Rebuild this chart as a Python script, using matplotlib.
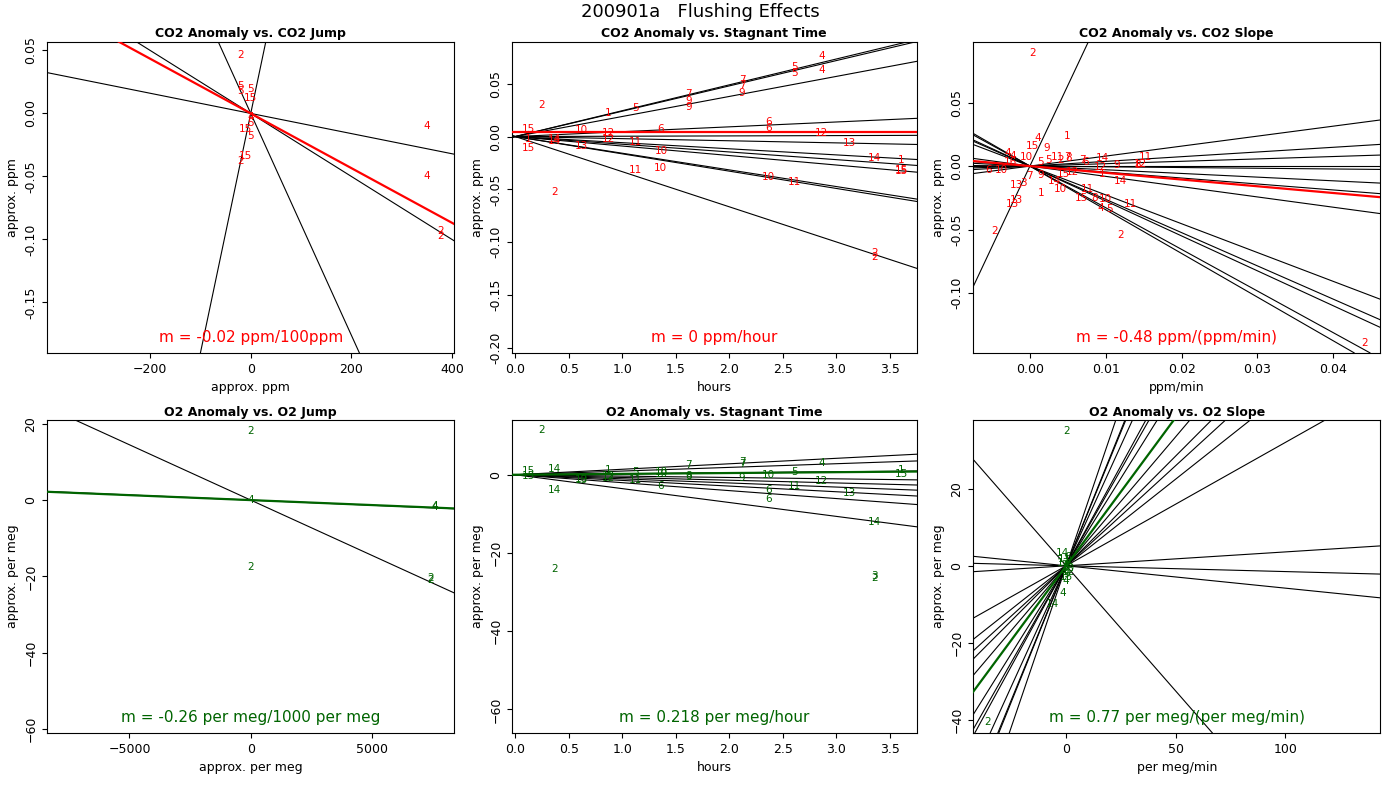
import matplotlib
matplotlib.use("Agg")
import matplotlib.pyplot as plt

RED = "#ff0000"
GRN = "#006400"

# ---------- Panel 1: CO2 Anomaly vs CO2 Jump ----------
p1_lab = ["2", "5", "5", "5", "15", "4", "15", "5", "5", "15", "2", "4", "4", "2", "2"]
p1_x = [-20, -20, -20, 0, 0, 0, -10, 0, 0, -10, -20, 350, 350, 378, 378]
p1_y = [0.046, 0.022, 0.018, 0.019, 0.012, -0.003, -0.012, -0.008, -0.018, -0.034, -0.038, -0.010, -0.050, -0.093, -0.097]
p1_slopes = [-0.00025, -0.00008, 0.0019, -0.00088]
p1_fit = -0.000217

# ---------- Panel 2: CO2 Anomaly vs Stagnant Time ----------
p2_lab = ["4", "5", "5", "4", "7", "7", "9", "7", "9", "9", "2", "1", "5", "6", "6", "15", "10", "6",
          "12", "12", "12", "14", "14", "13", "11", "13", "10", "15", "1", "11", "10", "10", "11", "14",
          "1", "15", "15", "2", "2", "2"]
p2_x = [2.86, 2.61, 2.61, 2.86, 2.12, 2.12, 2.12, 1.62, 1.62, 1.62, 0.25, 0.87, 1.12, 2.37, 2.37, 0.12, 0.62, 1.36,
        0.87, 0.87, 2.86, 0.37, 0.37, 0.62, 1.12, 3.12, 1.37, 0.12, 0.12, 1.12, 1.36, 2.37, 2.61, 3.36,
        3.61, 3.61, 3.61, 0.37, 3.36, 3.36]
p2_y = [0.076, 0.066, 0.060, 0.063, 0.054, 0.049, 0.041, 0.040, 0.034, 0.028, 0.030, 0.022, 0.027, 0.014, 0.008, 0.007, 0.006, 0.007,
        0.003, -0.002, 0.003, -0.002, -0.004, -0.009, -0.005, -0.006, -0.014, -0.011, -0.002, -0.032, -0.030, -0.038, -0.043, -0.020,
        -0.022, -0.032, -0.033, -0.053, -0.110, -0.114]
p2_slopes = [0.0245, 0.0240, 0.019, 0.0046, 0.0003, -0.002, -0.0058, -0.0073, -0.009, -0.0158, -0.0164, -0.0333]
p2_fit_int = 0.004
p2_fit = 0.0

# ---------- Panel 3: CO2 Anomaly vs CO2 Slope ----------
p3_lab = ["2", "1", "4", "15", "9", "4", "4", "10", "5", "11", "2", "7", "8", "7", "6", "14", "9", "8", "12", "11",
          "12", "1", "14", "6", "10", "16", "5", "7", "9", "12", "15", "14", "10", "1", "11", "13", "3", "13", "13",
          "15", "8", "10", "4", "5", "11", "2", "2", "2"]
p3_x = [0.0003, 0.0049, 0.001, 0.0003, 0.0022, -0.0029, -0.0023, -0.0004, 0.0024, 0.0036, 0.004, 0.0049, 0.0051, 0.0069, 0.0074, 0.0096, 0.0114, 0.0142, 0.0146, 0.0152,
        0.0093, 0.0095, 0.0119, -0.0055, -0.0037, -0.0026, 0.0014, -0.0001, 0.0014, 0.0056, 0.0044, 0.0032, 0.004, 0.0015, 0.0076, -0.0018, -0.0008, -0.0018, -0.0023,
        0.0068, 0.0085, 0.010, 0.0093, 0.0105, 0.0132, -0.0046, 0.012, 0.0441]
p3_y = [0.089, 0.024, 0.022, 0.016, 0.014, 0.010, 0.008, 0.007, 0.005, 0.007, 0.005, 0.007, 0.006, 0.005, 0.003, 0.006, 0.001, 0.001, 0.002, 0.007,
        -0.001, -0.006, -0.012, -0.003, -0.003, 0.003, 0.003, -0.008, -0.007, -0.005, -0.006, -0.012, -0.018, -0.021, -0.018, -0.015, -0.013, -0.027, -0.030,
        -0.025, -0.025, -0.026, -0.033, -0.034, -0.030, -0.051, -0.054, -0.139]
p3_slopes = [12.7, 0.786, 0.37, 0.188, 0.0, -0.057, -0.29, -0.47, -0.81, -2.27, -2.62, -2.75, -3.28, -3.44]
p3_fit = -0.53

# ---------- Panel 4: O2 Anomaly vs O2 Jump ----------
p4_lab = ["2", "4", "2", "2", "2", "4", "4"]
p4_x = [0, 0, 0, 7400, 7400, 7600, 7600]
p4_y = [18, 0, -17.5, -20.5, -21, -1.5, -1.8]
p4_slopes = [-0.0029, -0.00027]
p4_fit = -0.00026

# ---------- Panel 5: O2 Anomaly vs Stagnant Time ----------
p5_lab = ["2", "15", "15", "14", "14", "2", "1", "12", "12", "10", "13", "5", "11", "10", "10", "6", "7", "9", "8",
          "7", "7", "9", "10", "6", "6", "5", "11", "4", "12", "13", "14", "2", "3", "1", "15"]
p5_x = [0.25, 0.12, 0.12, 0.37, 0.37, 0.37, 0.87, 0.87, 0.87, 0.62, 0.62, 1.12, 1.12, 1.37, 1.37, 1.36, 1.62, 1.62, 1.62,
        2.12, 2.12, 2.12, 2.37, 2.37, 2.37, 2.61, 2.61, 2.86, 2.86, 3.12, 3.36, 3.36, 3.36, 3.61, 3.61]
p5_y = [11.4, 0.9, -0.2, 1.4, -3.9, -24, 1.1, -0.2, -0.9, -1.0, -1.4, 0.7, -1.3, 0.7, 0.3, -2.8, 2.4, -0.6, -0.4,
        3.3, 2.7, -0.9, 0.0, -3.8, -6.1, 0.7, -2.8, 2.9, -1.7, -4.7, -12, -26.4, -26.0, 1.3, 0.3]
p5_slopes = [1.4, 0.94, 0.23, 0.25, -0.35, -0.7, -1.05, -1.45, -2.03, -3.55]
p5_fit = 0.218

# ---------- Panel 6: O2 Anomaly vs O2 Slope ----------
p6_lab = ["2", "14", "14", "2", "4", "1", "3", "5", "7", "9", "10", "11", "12", "13", "15", "6", "8", "4"]
p6_x = [0, -1.5, -6.4, -35.7, 0, 0.5, -0.5, 1.0, -1.0, 0.3, 0.8, -0.8, 1.2, -1.2, 0.2, 0.6, -0.3, -1.5]
p6_y = [35, 3.3, -10, -40.4, -4, 1.5, -1.0, 0.5, 0.2, -2.0, -0.5, 1.8, -1.5, 0.8, -2.8, 2.3, -0.3, -7]
p6_slopes = [1.67, 1.41, 1.39, 1.25, 1.04, 1.0, 0.91, 0.67, 0.57, 0.52, 0.45, 0.32, -0.65, 0.036, -0.015, -0.058]
p6_fit = 0.77

panels = [
    dict(title="CO2 Anomaly vs. CO2 Jump", lab=p1_lab, x=p1_x, y=p1_y, slopes=p1_slopes, fit=p1_fit, inter=0.0,
         col=RED, xlim=(-405, 405), ylim=(-0.19, 0.057), xt=[-200, 0, 200, 400], yt=[-0.15, -0.10, -0.05, 0.00, 0.05],
         ytl=["-0.15", "-0.10", "-0.05", "0.00", "0.05"], xl="approx. ppm", yl="approx. ppm", m="m = -0.02 ppm/100ppm",
         pos=[0.0336, 0.559, 0.291, 0.389]),
    dict(title="CO2 Anomaly vs. Stagnant Time", lab=p2_lab, x=p2_x, y=p2_y, slopes=p2_slopes, fit=p2_fit, inter=p2_fit_int,
         col=RED, xlim=(-0.03, 3.75), ylim=(-0.205, 0.09), xt=[0, 0.5, 1, 1.5, 2, 2.5, 3, 3.5], yt=[-0.20, -0.15, -0.10, -0.05, 0.00, 0.05],
         ytl=["-0.20", "-0.15", "-0.10", "-0.05", "0.00", "0.05"], xl="hours", yl="approx. ppm", m="m = 0 ppm/hour",
         pos=[0.3657, 0.559, 0.289, 0.389]),
    dict(title="CO2 Anomaly vs. CO2 Slope", lab=p3_lab, x=p3_x, y=p3_y, slopes=p3_slopes, fit=p3_fit, inter=0.0,
         col=RED, xlim=(-0.0075, 0.0462), ylim=(-0.147, 0.098), xt=[0, 0.01, 0.02, 0.03, 0.04], yt=[-0.10, -0.05, 0.00, 0.05],
         ytl=["-0.10", "-0.05", "0.00", "0.05"], xl="ppm/min", yl="approx. ppm", m="m = -0.48 ppm/(ppm/min)",
         pos=[0.695, 0.559, 0.291, 0.389], xtl=["0.00", "0.01", "0.02", "0.03", "0.04"]),
    dict(title="O2 Anomaly vs. O2 Jump", lab=p4_lab, x=p4_x, y=p4_y, slopes=p4_slopes, fit=p4_fit, inter=0.0,
         col=GRN, xlim=(-8400, 8400), ylim=(-61, 21), xt=[-5000, 0, 5000], yt=[-60, -40, -20, 0, 20],
         ytl=None, xl="approx. per meg", yl="approx. per meg", m="m = -0.26 per meg/1000 per meg",
         pos=[0.0336, 0.084, 0.291, 0.391]),
    dict(title="O2 Anomaly vs. Stagnant Time", lab=p5_lab, x=p5_x, y=p5_y, slopes=p5_slopes, fit=p5_fit, inter=0.0,
         col=GRN, xlim=(-0.03, 3.75), ylim=(-66, 14), xt=[0, 0.5, 1, 1.5, 2, 2.5, 3, 3.5], yt=[-60, -40, -20, 0],
         ytl=None, xl="hours", yl="approx. per meg", m="m = 0.218 per meg/hour",
         pos=[0.3657, 0.084, 0.289, 0.391]),
    dict(title="O2 Anomaly vs. O2 Slope", lab=p6_lab, x=p6_x, y=p6_y, slopes=p6_slopes, fit=p6_fit, inter=0.0,
         col=GRN, xlim=(-42.5, 143.3), ylim=(-43.3, 37.8), xt=[0, 50, 100], yt=[-40, -20, 0, 20],
         ytl=None, xl="per meg/min", yl="approx. per meg", m="m = 0.77 per meg/(per meg/min)",
         pos=[0.695, 0.084, 0.291, 0.391]),
]

fig = plt.figure(figsize=(14, 8), dpi=100)
fig.text(0.5, 0.985, "200901a   Flushing Effects", ha="center", va="center", fontsize=13)

for p in panels:
    ax = fig.add_axes(p["pos"])
    for s in p["slopes"]:
        ax.axline((0, 0), slope=s, color="black", lw=0.8)
    ax.axline((0, p["inter"]), slope=p["fit"], color=p["col"], lw=1.6, zorder=3)
    for l, xx, yy in zip(p["lab"], p["x"], p["y"]):
        ax.text(xx, yy, l, color=p["col"], fontsize=7.5, ha="center", va="center", zorder=4)
    ax.set_xlim(p["xlim"]); ax.set_ylim(p["ylim"])
    ax.set_xticks(p["xt"])
    if "xtl" in p:
        ax.set_xticklabels(p["xtl"])
    ax.set_yticks(p["yt"])
    if p["ytl"]:
        ax.set_yticklabels(p["ytl"])
    for t in ax.get_yticklabels():
        t.set_rotation(90); t.set_va("center")
    ax.tick_params(labelsize=9)
    ax.set_title(p["title"], fontsize=9, fontweight="bold", pad=3)
    ax.set_xlabel(p["xl"], fontsize=9)
    ax.set_ylabel(p["yl"], fontsize=9)
    ax.text(0.5, 0.05, p["m"], transform=ax.transAxes, color=p["col"], fontsize=11, ha="center", va="center")

fig.savefig("out.png", dpi=100)
